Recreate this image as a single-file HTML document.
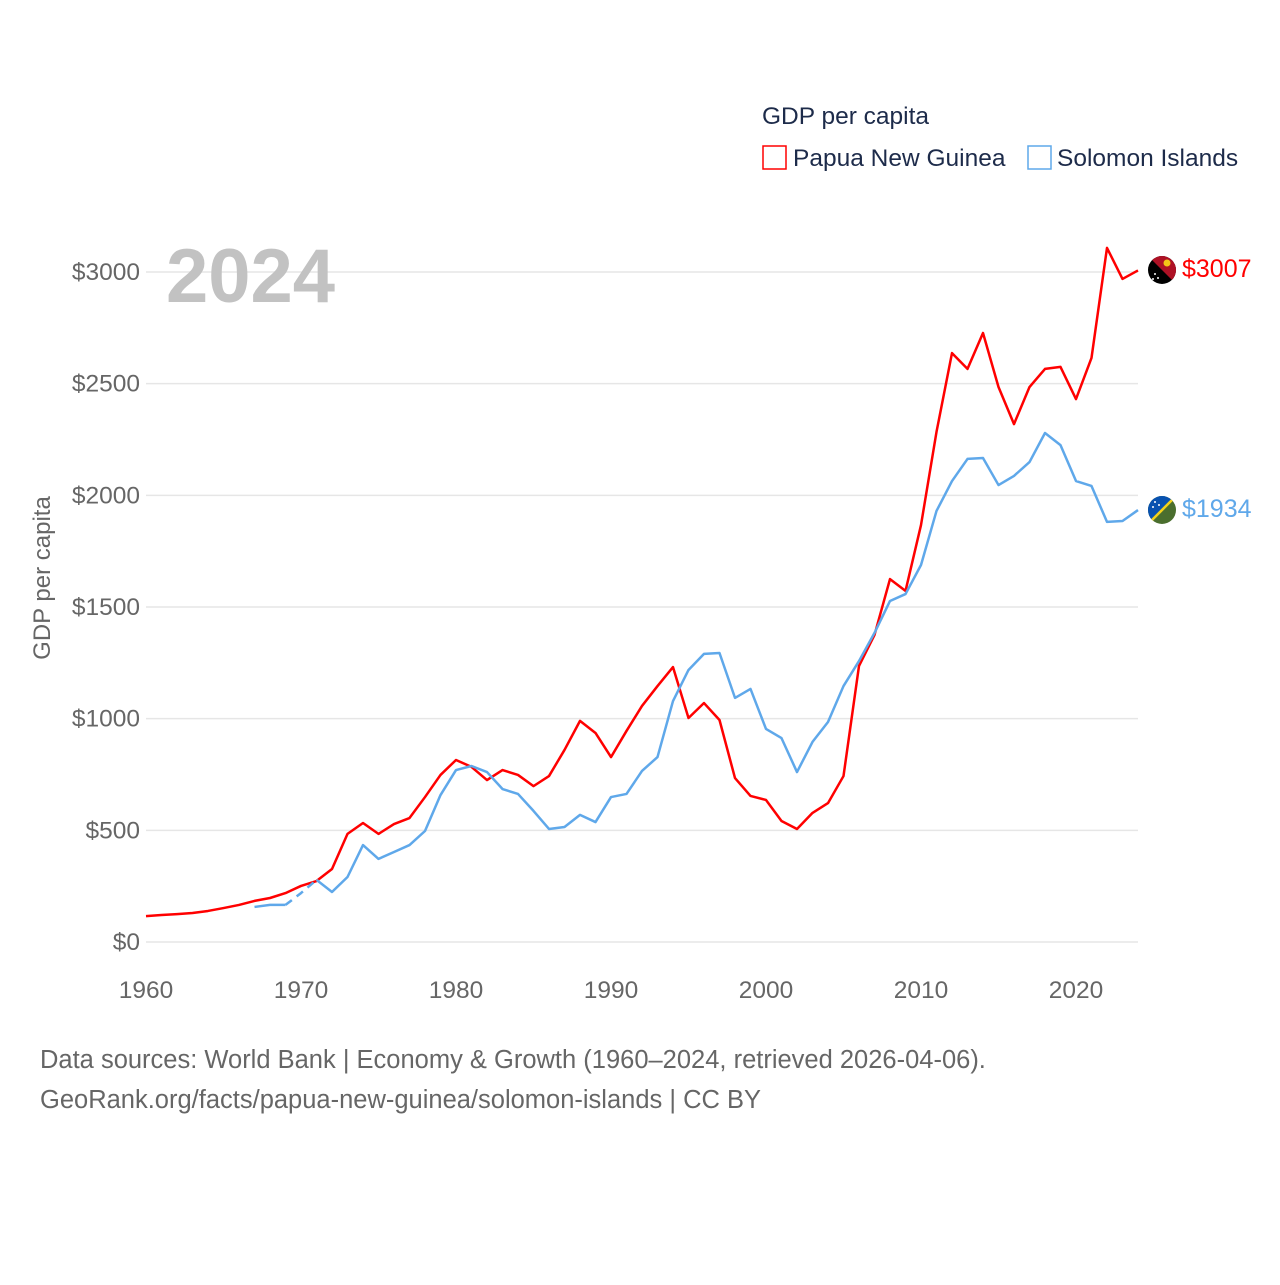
<!DOCTYPE html>
<html><head><meta charset="utf-8"><style>
body{margin:0;background:#fff;font-family:"Liberation Sans",sans-serif}
svg text{font-family:"Liberation Sans",sans-serif}
</style></head><body>
<svg id="chart" width="1280" height="1280" xmlns="http://www.w3.org/2000/svg">
<rect width="1280" height="1280" fill="#fff"/>
<g id="grid"></g><g id="yt"></g><g id="xt"></g><g id="lines"></g>
<text x="166" y="302" font-size="76" font-weight="bold" fill="#c2c2c2">2024</text>
<text transform="translate(50,578) rotate(-90)" text-anchor="middle" font-size="24" fill="#666">GDP per capita</text>
<text x="762" y="124" font-size="24.5" fill="#1d2b4a">GDP per capita</text>
<g><rect x="763" y="146" width="23" height="23" fill="none" stroke="#ff0000" stroke-width="1.5"/><text x="793" y="166" font-size="24.5" fill="#1d2b4a">Papua New Guinea</text></g>
<g><rect x="1028" y="146" width="23" height="23" fill="none" stroke="#5fa8ea" stroke-width="1.5"/><text x="1057" y="166" font-size="24.5" fill="#1d2b4a">Solomon Islands</text></g>
<g><clipPath id="c1"><circle cx="1162" cy="270" r="14"/></clipPath><g clip-path="url(#c1)"><rect x="1148" y="256" width="28" height="28" fill="#000"/><polygon points="1148,256 1176,256 1176,284" fill="#ae1125"/><circle cx="1167" cy="263" r="3.5" fill="#f3c518"/><circle cx="1155" cy="274" r="1" fill="#fff"/><circle cx="1158" cy="278" r="1" fill="#fff"/><circle cx="1153" cy="279" r="1" fill="#fff"/></g></g>
<text x="1182" y="277" font-size="25" fill="#ff0000">$3007</text>
<g><clipPath id="c2"><circle cx="1162" cy="510" r="14"/></clipPath><g clip-path="url(#c2)"><rect x="1148" y="496" width="28" height="28" fill="#4a6e2e"/><polygon points="1148,496 1176,496 1148,524" fill="#0852b0"/><line x1="1176" y1="496" x2="1148" y2="524" stroke="#f3d21b" stroke-width="2.5"/><circle cx="1155" cy="502" r="1" fill="#fff"/><circle cx="1159" cy="505" r="1" fill="#fff"/><circle cx="1153" cy="507" r="1" fill="#fff"/></g></g>
<text x="1182" y="517" font-size="25" fill="#5fa8ea">$1934</text>
<text x="40" y="1068" font-size="25.5" fill="#666">Data sources: World Bank | Economy &amp; Growth (1960–2024, retrieved 2026-04-06).</text>
<text x="40" y="1108" font-size="25.5" fill="#666">GeoRank.org/facts/papua-new-guinea/solomon-islands | CC BY</text>
</svg>
<script>
const pngYears=[1960,1961,1962,1963,1964,1965,1966,1967,1968,1969,1970,1971,1972,1973,1974,1975,1976,1977,1978,1979,1980,1981,1982,1983,1984,1985,1986,1987,1988,1989,1990,1991,1992,1993,1994,1995,1996,1997,1998,1999,2000,2001,2002,2003,2004,2005,2006,2007,2008,2009,2010,2011,2012,2013,2014,2015,2016,2017,2018,2019,2020,2021,2022,2023,2024];
const pngValues=[116,121,125,130,139,152,166,184,197,219,251,273,327,484,533,484,528,555,649,748,815,784,725,770,748,698,743,860,990,936,828,945,1057,1146,1231,1003,1070,994,734,654,636,542,506,578,622,743,1236,1375,1625,1572,1867,2284,2637,2566,2727,2485,2319,2485,2566,2575,2431,2615,3108,2969,3007];
const slbYears=[1967,1968,1969,1970,1971,1972,1973,1974,1975,1976,1977,1978,1979,1980,1981,1982,1983,1984,1985,1986,1987,1988,1989,1990,1991,1992,1993,1994,1995,1996,1997,1998,1999,2000,2001,2002,2003,2004,2005,2006,2007,2008,2009,2010,2011,2012,2013,2014,2015,2016,2017,2018,2019,2020,2021,2022,2023,2024];
const slbValues=[157,166,166,219,278,224,291,434,372,403,434,497,658,770,788,761,685,663,587,506,515,569,537,649,663,766,828,1079,1218,1290,1294,1093,1133,954,913,761,896,985,1146,1258,1384,1527,1558,1688,1930,2064,2163,2167,2046,2087,2149,2279,2225,2064,2042,1881,1885,1934];
const yTicks=[0,500,1000,1500,2000,2500,3000];
const xTicks=[1960,1970,1980,1990,2000,2010,2020];
const NS='http://www.w3.org/2000/svg';
const X=y=>146+(y-1960)*15.5;
const Y=v=>942-v*670/3000;
function mk(t,a,p){const e=document.createElementNS(NS,t);for(const k in a)e.setAttribute(k,a[k]);document.getElementById(p).appendChild(e);return e;}
yTicks.forEach(v=>{
 const l=mk('line',{x1:146,x2:1138,y1:Y(v),y2:Y(v),stroke:'#e6e6e6','stroke-width':1.5},'grid');
 
 
 const t=mk('text',{x:140,y:Y(v)+8,'text-anchor':'end','font-size':24.5,fill:'#666'},'yt');
 t.textContent='$'+v;
 
 
});
xTicks.forEach(v=>{
 const t=mk('text',{x:X(v),y:998,'text-anchor':'middle','font-size':24.5,fill:'#666'},'xt');
 t.textContent=v;
 
 
});
function pts(ys,vs,a,b){return ys.map((y,i)=>[y,vs[i]]).filter(p=>p[0]>=a&&p[0]<=b).map(p=>X(p[0])+','+Y(p[1])).join(' ');}
let p=mk('polyline',{points:pts(pngYears,pngValues,1960,2024),fill:'none',stroke:'#ff0000','stroke-width':2.5,'stroke-linejoin':'round'},'lines');


[[1967,1969,null],[1969,1971,'8,6'],[1971,2024,null]].forEach(s=>{
 const a={points:pts(slbYears,slbValues,s[0],s[1]),fill:'none',stroke:'#5fa8ea','stroke-width':2.5,'stroke-linejoin':'round'};
 if(s[2])a['stroke-dasharray']=s[2];
 const q=mk('polyline',a,'lines');
 
 
});
</script>
</body></html>
